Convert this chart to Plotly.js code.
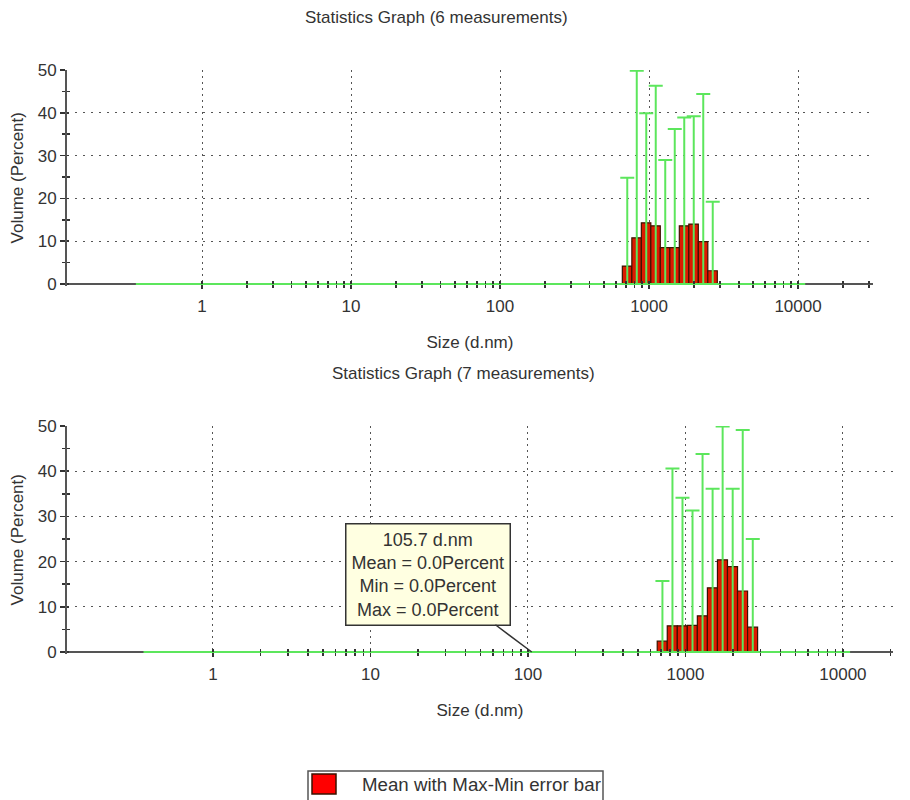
<!DOCTYPE html>
<html>
<head>
<meta charset="utf-8">
<script src="https://cdn.plot.ly/plotly-3.0.1.min.js"></script>
<style>
html,body{margin:0;padding:0;background:#fff;}
#chart{width:910px;height:800px;}
</style>
</head>
<body>
<div id="chart"></div>
<script>
// Size classes (d.nm)
const sizes = [
  0.4, 0.4632, 0.5365, 0.6213, 0.7195, 0.8332, 0.9649, 1.117, 1.294, 1.499,
  1.736, 2.010, 2.328, 2.696, 3.122, 3.615, 4.187, 4.849, 5.615, 6.503,
  7.531, 8.721, 10.10, 11.70, 13.54, 15.69, 18.17, 21.04, 24.36, 28.21,
  32.67, 37.84, 43.82, 50.75, 58.77, 68.06, 78.82, 91.28, 105.7, 122.4,
  141.8, 164.2, 190.1, 220.2, 255.0, 295.3, 342.0, 396.1, 458.7, 531.2,
  615.1, 712.4, 825.0, 955.4, 1106, 1281, 1484, 1718, 1990, 2305,
  2669, 3091, 3580, 4145, 4801, 5560, 6439, 7456, 8635, 10000
];

// Statistics Graph (6 measurements) - Volume (Percent)
const meanTop = [
  0, 0, 0, 0, 0, 0, 0, 0, 0, 0,
  0, 0, 0, 0, 0, 0, 0, 0, 0, 0,
  0, 0, 0, 0, 0, 0, 0, 0, 0, 0,
  0, 0, 0, 0, 0, 0, 0, 0, 0, 0,
  0, 0, 0, 0, 0, 0, 0, 0, 0, 0,
  0, 4.2, 10.8, 14.3, 13.6, 8.5, 8.5, 13.6, 14.0, 9.9,
  3.1, 0, 0, 0, 0, 0, 0, 0, 0, 0
];
const maxTop = [
  0, 0, 0, 0, 0, 0, 0, 0, 0, 0,
  0, 0, 0, 0, 0, 0, 0, 0, 0, 0,
  0, 0, 0, 0, 0, 0, 0, 0, 0, 0,
  0, 0, 0, 0, 0, 0, 0, 0, 0, 0,
  0, 0, 0, 0, 0, 0, 0, 0, 0, 0,
  0, 24.8, 49.8, 39.9, 46.3, 29.0, 36.2, 38.9, 39.2, 44.4,
  19.2, 0, 0, 0, 0, 0, 0, 0, 0, 0
];
const minTop = [
  0, 0, 0, 0, 0, 0, 0, 0, 0, 0,
  0, 0, 0, 0, 0, 0, 0, 0, 0, 0,
  0, 0, 0, 0, 0, 0, 0, 0, 0, 0,
  0, 0, 0, 0, 0, 0, 0, 0, 0, 0,
  0, 0, 0, 0, 0, 0, 0, 0, 0, 0,
  0, 0, 0, 0, 0, 0, 0, 0, 0, 0,
  0, 0, 0, 0, 0, 0, 0, 0, 0, 0
];

// Statistics Graph (7 measurements) - Volume (Percent)
const meanBot = [
  0, 0, 0, 0, 0, 0, 0, 0, 0, 0,
  0, 0, 0, 0, 0, 0, 0, 0, 0, 0,
  0, 0, 0, 0, 0, 0, 0, 0, 0, 0,
  0, 0, 0, 0, 0, 0, 0, 0, 0, 0,
  0, 0, 0, 0, 0, 0, 0, 0, 0, 0,
  0, 2.4, 5.8, 5.8, 5.9, 8.0, 14.2, 20.4, 18.9, 13.5,
  5.5, 0, 0, 0, 0, 0, 0, 0, 0, 0
];
const maxBot = [
  0, 0, 0, 0, 0, 0, 0, 0, 0, 0,
  0, 0, 0, 0, 0, 0, 0, 0, 0, 0,
  0, 0, 0, 0, 0, 0, 0, 0, 0, 0,
  0, 0, 0, 0, 0, 0, 0, 0, 0, 0,
  0, 0, 0, 0, 0, 0, 0, 0, 0, 0,
  0, 15.7, 40.6, 34.1, 31.3, 43.8, 36.1, 49.9, 36.1, 49.1,
  25.0, 0, 0, 0, 0, 0, 0, 0, 0, 0
];
const minBot = [
  0, 0, 0, 0, 0, 0, 0, 0, 0, 0,
  0, 0, 0, 0, 0, 0, 0, 0, 0, 0,
  0, 0, 0, 0, 0, 0, 0, 0, 0, 0,
  0, 0, 0, 0, 0, 0, 0, 0, 0, 0,
  0, 0, 0, 0, 0, 0, 0, 0, 0, 0,
  0, 0, 0, 0, 0, 0, 0, 0, 0, 0,
  0, 0, 0, 0, 0, 0, 0, 0, 0, 0
];

// Axis ticks
const majorTicks = [1, 10, 100, 1000, 10000];
const majorLabels = ['1', '10', '100', '1000', '10000'];
const minorTicks = [2, 3, 4, 5, 6, 7, 8, 9, 20, 30, 40, 50, 60, 70, 80, 90,
  200, 300, 400, 500, 600, 700, 800, 900, 2000, 3000, 4000, 5000, 6000, 7000, 8000, 9000,
  20000, 30000];

const titleTop = 'Statistics Graph (6 measurements)';
const titleBot = 'Statistics Graph (7 measurements)';
const xTitle = 'Size (d.nm)';
const yTitle = 'Volume (Percent)';
const legendLabel = 'Mean with Max-Min error bar';
const tipIndex = 38; // 105.7 d.nm

// Styles
const GREEN = '#5ce65c';
const BAR_FILL = '#dc1a00';
const BAR_LINE = '#3a1200';
const AXIS = '#555555';
const TICK = '#333333';
const TXT = '#333333';
const FONT = 'Liberation Sans, Arial, sans-serif';

// bar extents on the log axis: from geometric mid-point to geometric mid-point
const n = sizes.length;
const lower = sizes.map((s, i) => i > 0 ? Math.sqrt(sizes[i - 1] * s) : s * s / Math.sqrt(s * sizes[1]));
const upper = sizes.map((s, i) => i < n - 1 ? Math.sqrt(s * sizes[i + 1]) : s * s / lower[i]);
const widths = sizes.map((s, i) => upper[i] - lower[i]);
const offsets = sizes.map((s, i) => lower[i] - s);

function barTrace(mean, max, min, xa, ya) {
  return {
    type: 'bar', x: sizes, y: mean, xaxis: xa, yaxis: ya,
    width: widths, offset: offsets,
    marker: {color: BAR_FILL, line: {color: BAR_LINE, width: 1.2}},
    error_y: {
      type: 'data', symmetric: false,
      array: max.map((v, i) => v - mean[i]),
      arrayminus: mean.map((v, i) => v - min[i]),
      color: GREEN, thickness: 2, width: 7
    },
    cliponaxis: false,
    name: legendLabel, showlegend: false,
    hoverinfo: 'skip'
  };
}
// empty carrier trace so the tick-only overlay axes are drawn
function carrier(xa, ya) {
  return {type: 'scatter', mode: 'none', x: [], y: [], xaxis: xa, yaxis: ya,
          showlegend: false, hoverinfo: 'skip'};
}

const W = 910, H = 800;
const px = v => v / W;
const py = v => 1 - v / H;

function xAxis(domain, range, zeroPx) {
  return {
    type: 'log', domain: domain, range: range, anchor: 'free', position: py(zeroPx),
    showline: true, linecolor: AXIS, linewidth: 2, layer: 'below traces',
    tickmode: 'array', tickvals: majorTicks, ticktext: majorLabels,
    ticks: 'outside', ticklen: 4, tickwidth: 1.5, tickcolor: TICK,
    ticklabelstandoff: 3,
    tickfont: {family: FONT, size: 17, color: TXT},
    showgrid: true, gridcolor: '#555', gridwidth: 1, griddash: '2px,4px',
    minor: {tickmode: 'array', tickvals: minorTicks, ticks: 'outside', ticklen: 3,
            tickwidth: 1.5, tickcolor: TICK, showgrid: false},
    zeroline: false, fixedrange: true, automargin: false,
    title: {text: xTitle, font: {family: FONT, size: 17, color: TXT}, standoff: 20}
  };
}
// tick-only overlay x axis (ticks drawn on the other side so they cross the line)
function xTickAxis(over, range, zeroPx) {
  return {
    type: 'log', overlaying: over, range: range, anchor: 'free', position: py(zeroPx),
    showline: false, layer: 'above traces',
    tickmode: 'array', tickvals: majorTicks, showticklabels: false,
    ticks: 'inside', ticklen: 3, tickwidth: 1.5, tickcolor: TICK,
    showgrid: false, zeroline: false, fixedrange: true, automargin: false,
    minor: {tickmode: 'array', tickvals: minorTicks, ticks: 'inside', ticklen: 3,
            tickwidth: 1.5, tickcolor: TICK, showgrid: false}
  };
}
function yAxis(domain, range, anchor) {
  return {
    domain: domain, range: range, anchor: anchor,
    showline: true, linecolor: AXIS, linewidth: 2,
    tick0: 0, dtick: 10,
    ticks: 'outside', ticklen: 5, tickwidth: 1.5, tickcolor: TICK,
    tickfont: {family: FONT, size: 17, color: TXT},
    showgrid: true, gridcolor: '#555', gridwidth: 1, griddash: '2px,6px',
    minor: {dtick: 5, tick0: 0, ticks: 'outside', ticklen: 3, tickwidth: 1.5, tickcolor: TICK, showgrid: false},
    zeroline: false, fixedrange: true, automargin: false,
    title: {text: yTitle, font: {family: FONT, size: 17, color: TXT}, standoff: 10}
  };
}
function yTickAxis(over, range, anchor) {
  return {
    overlaying: over, range: range, anchor: anchor,
    showline: false, tick0: 0, dtick: 10, showticklabels: false,
    ticks: 'inside', ticklen: 2, tickwidth: 1.5, tickcolor: TICK,
    showgrid: false, zeroline: false, fixedrange: true, automargin: false,
    minor: {dtick: 5, tick0: 0, ticks: 'inside', ticklen: 3, tickwidth: 1.5, tickcolor: TICK, showgrid: false}
  };
}

const rangeXTop = [-0.906, 4.503];
const rangeXBot = [-0.927, 4.318];
const rangeYTop = [-0.35, 50];
const rangeYBot = [-0.33, 50];

const data = [
  barTrace(meanTop, maxTop, minTop, 'x', 'y'),
  barTrace(meanBot, maxBot, minBot, 'x2', 'y2'),
  carrier('x3', 'y3'),
  carrier('x4', 'y4')
];

const tipText = sizes[tipIndex] + ' d.nm<br>' +
  'Mean = ' + meanBot[tipIndex].toFixed(1) + 'Percent<br>' +
  'Min = ' + minBot[tipIndex].toFixed(1) + 'Percent<br>' +
  'Max = ' + maxBot[tipIndex].toFixed(1) + 'Percent';

const layout = {
  width: W, height: H,
  margin: {l: 0, r: 0, t: 0, b: 0},
  paper_bgcolor: '#ffffff', plot_bgcolor: 'rgba(0,0,0,0)',
  font: {family: FONT, size: 17, color: TXT},
  showlegend: false,
  bargap: 0,
  xaxis: xAxis([px(67), px(873)], rangeXTop, 284),
  yaxis: yAxis([py(285.5), py(70)], rangeYTop, 'x'),
  xaxis2: xAxis([px(67), px(893)], rangeXBot, 652),
  yaxis2: yAxis([py(653.5), py(426)], rangeYBot, 'x2'),
  xaxis3: xTickAxis('x', rangeXTop, 284),
  yaxis3: yTickAxis('y', rangeYTop, 'x'),
  xaxis4: xTickAxis('x2', rangeXBot, 652),
  yaxis4: yTickAxis('y2', rangeYBot, 'x2'),
  annotations: [
    {xref: 'paper', yref: 'paper', x: px(436), y: py(18), xanchor: 'center', yanchor: 'middle',
     text: titleTop, showarrow: false, font: {family: FONT, size: 17, color: TXT}},
    {xref: 'paper', yref: 'paper', x: px(463), y: py(373), xanchor: 'center', yanchor: 'middle',
     text: titleBot, showarrow: false, font: {family: FONT, size: 17, color: TXT}},
    {xref: 'x2', yref: 'y2', x: Math.log10(sizes[tipIndex]), y: meanBot[tipIndex],
     text: tipText, showarrow: true, arrowhead: 0, arrowwidth: 1.5, arrowcolor: '#333',
     ax: -104, ay: -78, bgcolor: '#ffffe1', bordercolor: '#333', borderwidth: 1.5, borderpad: 5,
     font: {family: FONT, size: 18, color: TXT}},
    {xref: 'paper', yref: 'paper', x: px(360), y: py(784), xanchor: 'left', yanchor: 'middle',
     text: legendLabel, showarrow: false, font: {family: FONT, size: 18.7, color: TXT}}
  ],
  shapes: [
    {type: 'rect', xref: 'paper', yref: 'paper', x0: px(308), x1: px(603), y0: py(771), y1: py(806),
     line: {color: '#555', width: 1.5}, fillcolor: 'rgba(255,255,255,0)'},
    {type: 'rect', xref: 'paper', yref: 'paper', x0: px(312), x1: px(336), y0: py(774), y1: py(794),
     line: {color: BAR_LINE, width: 1.5}, fillcolor: '#ff0000'}
  ]
};

Plotly.newPlot('chart', data, layout, {staticPlot: true, displayModeBar: false});
</script>
</body>
</html>
